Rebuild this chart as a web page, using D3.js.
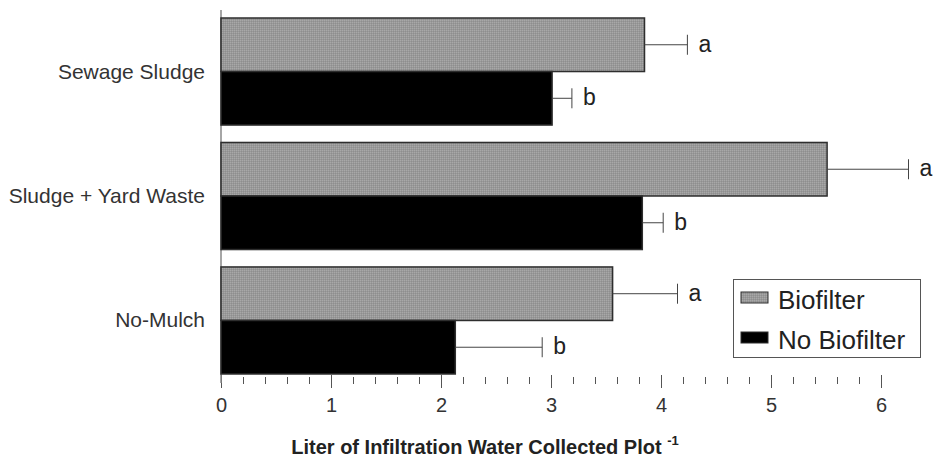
<!DOCTYPE html>
<html>
<head>
<meta charset="utf-8">
<script src="https://cdn.jsdelivr.net/npm/d3@7/dist/d3.min.js"></script>
<style>
  html, body { margin: 0; padding: 0; background: #fff; }
  svg { display: block; font-family: "Liberation Sans", Arial, sans-serif; }
</style>
</head>
<body>
<svg id="chart" width="937" height="458"></svg>
<script>
// Treatments (top to bottom)
const categories = ["Sewage Sludge", "Sludge + Yard Waste", "No-Mulch"];
// Infiltration water collected (L per plot) and error half-widths
const biofilter = [3.85, 5.51, 3.56];
const biofilterErr = [0.39, 0.74, 0.59];
const noBiofilter = [3.01, 3.83, 2.13];
const noBiofilterErr = [0.18, 0.19, 0.79];
// Significance letters
const biofilterLetters = ["a", "a", "a"];
const noBiofilterLetters = ["b", "b", "b"];
const seriesNames = ["Biofilter", "No Biofilter"];
const majorTicks = [0, 1, 2, 3, 4, 5, 6];

const svg = d3.select("#chart");

// pattern for the stippled gray fill
const defs = svg.append("defs");
const pat = defs.append("pattern")
  .attr("id", "stipple").attr("patternUnits", "userSpaceOnUse")
  .attr("width", 2).attr("height", 2);
pat.append("rect").attr("width", 2).attr("height", 2).attr("fill", "#999");
pat.append("rect").attr("width", 1).attr("height", 1).attr("fill", "#a8a8a8");
pat.append("rect").attr("x", 1).attr("y", 1).attr("width", 1).attr("height", 1).attr("fill", "#8e8e8e");

const x = d3.scaleLinear().domain([0, 6]).range([221, 881]);
const y = d3.scaleBand().domain(categories).range([18, 374]).paddingInner(0.14).paddingOuter(0);
const sub = d3.scaleBand().domain(seriesNames).range([0, y.bandwidth()]);

const rows = categories.map((c, i) => [
  { cat: c, s: seriesNames[0], v: biofilter[i], e: biofilterErr[i], l: biofilterLetters[i] },
  { cat: c, s: seriesNames[1], v: noBiofilter[i], e: noBiofilterErr[i], l: noBiofilterLetters[i] }
]).flat();

// minor ticks every 0.2
const minorAxis = d3.axisBottom(x).tickValues(d3.range(0, 6.01, 0.2)).tickSize(7).tickFormat("");
const gMinor = svg.append("g").attr("transform", "translate(0,377)").call(minorAxis);
gMinor.select(".domain").remove();
gMinor.selectAll(".tick line").attr("stroke", "#555").attr("stroke-width", 1);

// major ticks with labels
const majorAxis = d3.axisBottom(x).tickValues(majorTicks).tickSize(13).tickFormat(d3.format("d"));
const gMajor = svg.append("g").attr("transform", "translate(0,375)").call(majorAxis);
gMajor.select(".domain").remove();
gMajor.selectAll(".tick line").attr("stroke", "#555").attr("stroke-width", 1);
gMajor.selectAll(".tick text")
  .attr("font-size", 20).attr("fill", "#333")
  .attr("font-family", "Liberation Sans, Arial, sans-serif")
  .attr("y", 37).attr("dy", null);

// vertical axis line
svg.append("line")
  .attr("x1", x(0)).attr("x2", x(0)).attr("y1", 10).attr("y2", 383)
  .attr("stroke", "#888").attr("stroke-width", 1.5);

// bars
svg.append("g").selectAll("rect").data(rows).join("rect")
  .attr("x", x(0))
  .attr("y", d => y(d.cat) + sub(d.s))
  .attr("width", d => x(d.v) - x(0))
  .attr("height", sub.bandwidth())
  .attr("fill", d => d.s === seriesNames[0] ? "url(#stipple)" : "#000")
  .attr("stroke", "#2e2e2e").attr("stroke-width", 1.5);

// error whiskers (upper side)
const eb = svg.append("g").selectAll("g").data(rows).join("g");
eb.append("line")
  .attr("x1", d => x(d.v)).attr("x2", d => x(d.v + d.e))
  .attr("y1", d => y(d.cat) + sub(d.s) + sub.bandwidth() / 2)
  .attr("y2", d => y(d.cat) + sub(d.s) + sub.bandwidth() / 2)
  .attr("stroke", "#444").attr("stroke-width", 1);
eb.append("line")
  .attr("x1", d => x(d.v + d.e)).attr("x2", d => x(d.v + d.e))
  .attr("y1", d => y(d.cat) + sub(d.s) + sub.bandwidth() / 2 - 10)
  .attr("y2", d => y(d.cat) + sub(d.s) + sub.bandwidth() / 2 + 10)
  .attr("stroke", "#444").attr("stroke-width", 1);
eb.append("text")
  .attr("x", d => x(d.v + d.e) + 11)
  .attr("y", d => y(d.cat) + sub(d.s) + sub.bandwidth() / 2 + 7)
  .attr("font-size", 23).attr("fill", "#222")
  .text(d => d.l);

// category labels
svg.append("g").selectAll("text").data(categories).join("text")
  .attr("x", 205).attr("y", d => y(d) + y.bandwidth() / 2 + 7)
  .attr("text-anchor", "end").attr("font-size", 21).attr("fill", "#333")
  .text(d => d);

// axis title with superscript
const title = svg.append("text")
  .attr("x", 485).attr("y", 454).attr("text-anchor", "middle")
  .attr("font-size", 20).attr("font-weight", "bold").attr("fill", "#222");
title.append("tspan").text("Liter of Infiltration Water Collected Plot ");
title.append("tspan").attr("font-size", 13).attr("dy", -9).text("-1");

// legend
const lg = svg.append("g");
lg.append("rect").attr("x", 733.5).attr("y", 279.5).attr("width", 187).attr("height", 78)
  .attr("fill", "#fff").attr("stroke", "#555").attr("stroke-width", 1);
const items = lg.selectAll("g").data(seriesNames).join("g")
  .attr("transform", (d, i) => `translate(0,${i * 40})`);
items.append("rect").attr("x", 741).attr("y", 292).attr("width", 27).attr("height", 11)
  .attr("fill", (d, i) => i === 0 ? "url(#stipple)" : "#000")
  .attr("stroke", "#2e2e2e").attr("stroke-width", 1);
items.append("text").attr("x", 778).attr("y", 309)
  .attr("font-size", 26).attr("fill", "#222").text(d => d);
</script>
</body>
</html>
